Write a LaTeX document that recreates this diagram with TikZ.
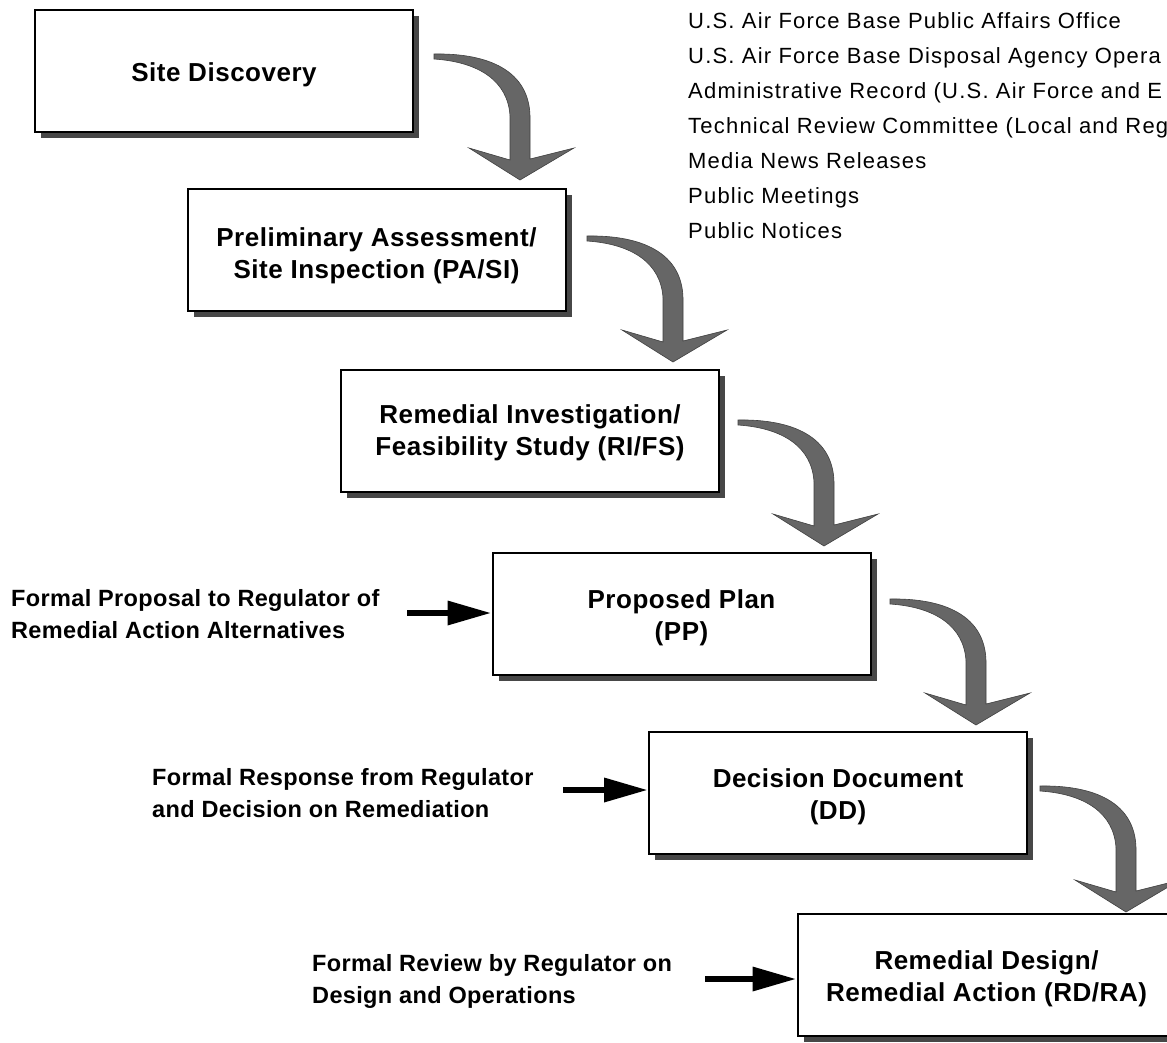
\documentclass[tikz,border=0pt]{standalone}
\usepackage{fontspec}
\usetikzlibrary{arrows.meta,shadows}
\newfontfamily\sansB[LetterSpace=2]{Liberation Sans}
\newfontfamily\sansC[LetterSpace=1.5]{Liberation Sans}
\newfontfamily\sansL[LetterSpace=5.5]{Liberation Sans}
\newcommand\boxfont{\sansB\bfseries\fontsize{26}{32}\selectfont}
\newcommand\lblfont{\sansC\bfseries\fontsize{23.5}{32}\selectfont}
\newcommand\lstfont{\sansL\fontsize{22}{35}\selectfont}
\newcommand\bendarrow[4]{\filldraw[grayarrow, shift={(#2,#3)}, yscale=#4] (0,-2) .. controls (55,-3) and (95,15) .. (96,60) -- (96,103) -- (140,92) -- (86,124) -- (35,92) -- (76,104) -- (76,60) .. controls (74,25) and (45,6) .. (0,3) -- cycle;}
\tikzset{
  box/.style={draw=black, line width=2pt, fill=white, minimum width=378pt,
    minimum height=122pt, inner sep=0pt,
    drop shadow={shadow xshift=6pt, shadow yshift=-6pt, fill=black!72, opacity=1}},
  boxtext/.style={align=center, font=\boxfont, inner sep=0pt},
  lbl/.style={font=\lblfont, align=left, inner sep=0pt, anchor=west},
  lst/.style={font=\lstfont, inner sep=0pt, anchor=base west},
  feed/.style={line width=6.5pt, -{Triangle[length=44pt,width=23pt]}},
  grayarrow/.style={fill=black!60, draw=black!75, line width=0.6pt},
}
\begin{document}
\begin{tikzpicture}[x=1pt,y=-1pt]
\useasboundingbox (0,0) rectangle (1167,1042);
\clip (0,0) rectangle (1167,1042);
\fill[white] (0,0) rectangle (1167,1042);

% list of communication channels
\node[lst] (l1) at (688,28)  {U.S. Air Force Base Public Affairs Office};
\node[lst] (l2) at (688,63)  {U.S. Air Force Base Disposal Agency Opera};
\node[lst] (l3) at (688,98)  {Administrative Record (U.S. Air Force and E};
\node[lst] (l4) at (688,133) {Technical Review Committee (Local and Reg};
\node[lst] (l5) at (688,168) {Media News Releases};
\node[lst] (l6) at (688,203) {Public Meetings};
\node[lst] (l7) at (688,238) {Public Notices};

% process boxes
\node[box] (b1) at (224,71)     {};
\node[box] (b2) at (376.5,249.5) {};
\node[box] (b3) at (530,431)    {};
\node[box] (b4) at (681.5,614)  {};
\node[box] (b5) at (838,793)    {};
\node[box] (b6) at (986.5,975)  {};
\node[boxtext] (b1t) at ([yshift=-4pt]b1.center) {Site Discovery};
\node[boxtext] (b2t) at ([yshift=-6pt]b2.center) {Preliminary Assessment/\\Site Inspection (PA/SI)};
\node[boxtext] (b3t) at ([yshift=-2pt]b3.center) {Remedial Investigation/\\Feasibility Study (RI/FS)};
\node[boxtext] (b4t) at ([yshift=-4pt]b4.center) {Proposed Plan\\(PP)};
\node[boxtext] (b5t) at ([yshift=-4pt]b5.center) {Decision Document\\(DD)};
\node[boxtext] (b6t) at ([yshift=-4pt]b6.center) {Remedial Design/\\Remedial Action (RD/RA)};

% curved gray arrows between boxes
\bendarrow{a1}{434}{56}{1.0}
\bendarrow{a2}{587}{238}{1.0}
\bendarrow{a3}{738}{422}{1.0}
\bendarrow{a4}{890}{601}{1.0}
\bendarrow{a5}{1040}{788}{1.0}

% regulator inputs
\node[lbl] (t1) at (11,614)  {Formal Proposal to Regulator of\\Remedial Action Alternatives};
\node[lbl] (t2) at (152,793) {Formal Response from Regulator\\and Decision on Remediation};
\node[lbl] (t3) at (312,981) {Formal Review by Regulator on\\Design and Operations};

\coordinate (f1) at (407,613);
\coordinate (f2) at (563,790);
\coordinate (f3) at (705,979);
\draw[feed] (f1) -- (f1 -| b4.west);
\draw[feed] (f2) -- (f2 -| b5.west);
\draw[feed] (f3) -- (f3 -| b6.west);
\end{tikzpicture}
\end{document}
